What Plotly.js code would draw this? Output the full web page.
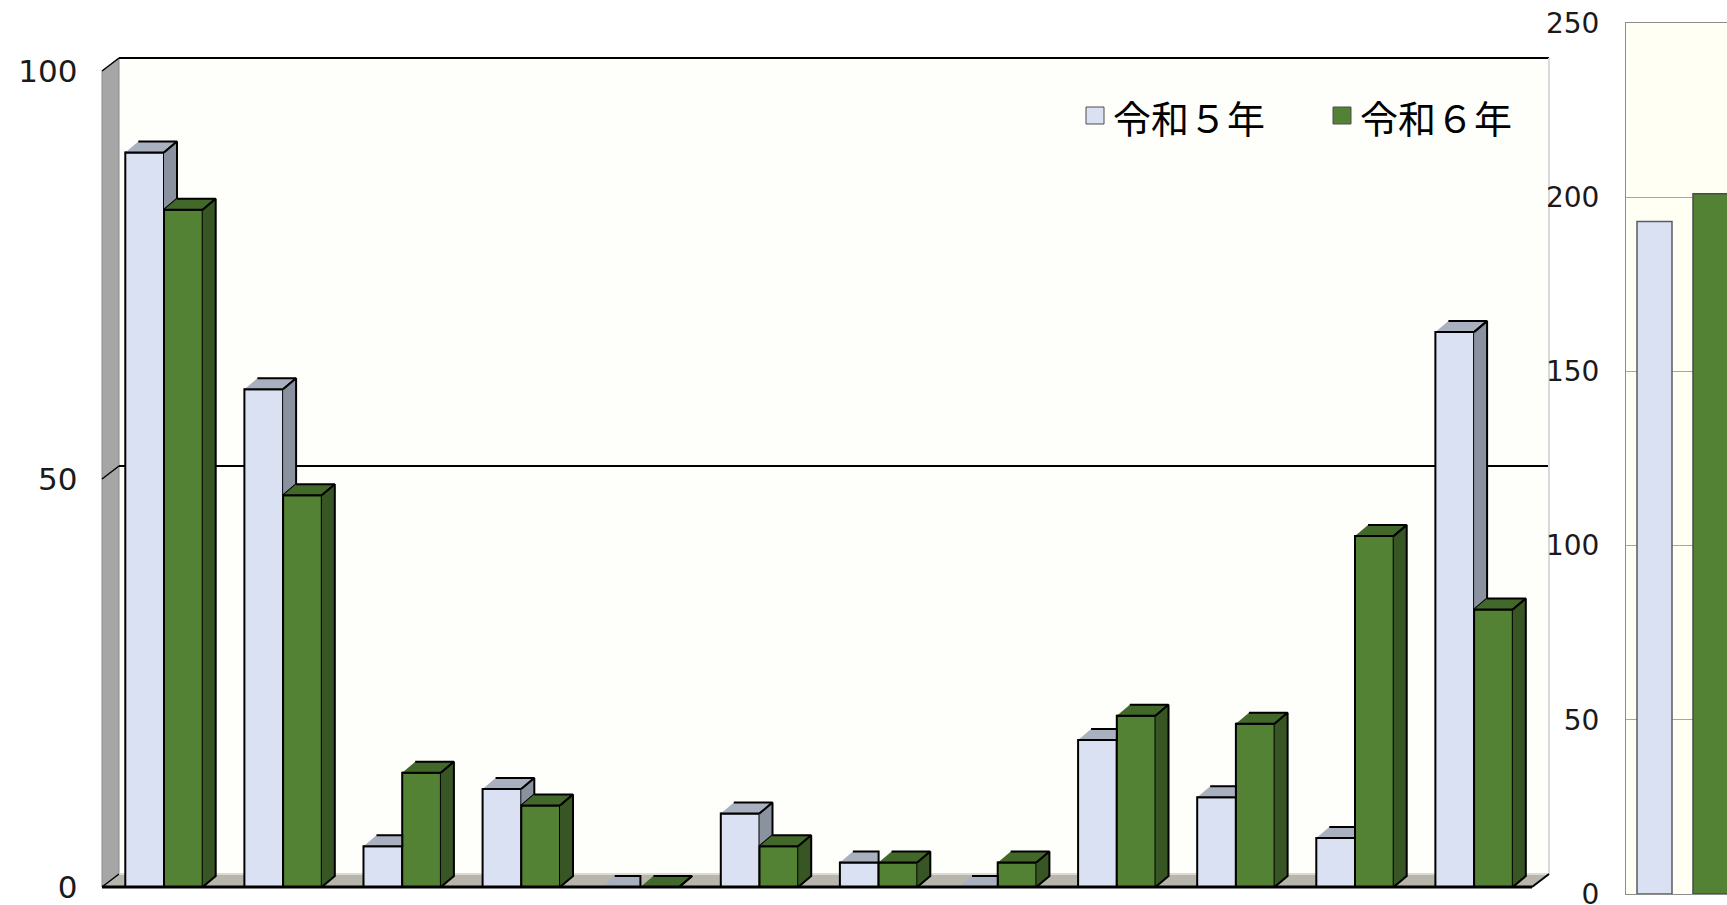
<!DOCTYPE html>
<html>
<head>
<meta charset="utf-8">
<script src="https://cdn.plot.ly/plotly-3.0.1.min.js"></script>
<style>
html,body{margin:0;padding:0;background:#ffffff;}
#chart{width:1727px;height:905px;}
</style>
</head>
<body>
<div id="chart"></div>
<script>
// ---------------- data ----------------
const categories = ['1','2','3','4','5','6','7','8','9','10','11','12'];
const seriesNames = ['令和５年', '令和６年'];
const valuesR5 = [90, 61, 5, 12, 0, 9, 3, 0, 18, 11, 6, 68];
const valuesR6 = [83, 48, 14, 10, 0, 5, 3, 3, 21, 20, 43, 34];
const totalCategory = ['合計'];
const totalR5 = [193];
const totalR6 = [201];
const leftTicks = [0, 50, 100];
const rightTicks = [0, 50, 100, 150, 200, 250];

// ---------------- layout constants (pixels) ----------------
const W = 1727, H = 905;
const L = {x0: 104.45, x1: 1533.65, y0: 887, y1: 71, yMax: 100};   // front plane of left chart
const WALL = {left: 102, right: 1532, dx: 17, dy: 13};
const BAR_DEPTH = {dx: 13, dy: 11};
const R = {x0: 1626, y0: 894, y1: 23, yMax: 250};
const px = x => x / W;
const py = y => 1 - y / H;
const yPix = v => L.y0 - (L.y0 - L.y1) * v / L.yMax;

const COLORS = {
  r5Front: '#DAE1F2', r5Top: '#A9B1C0', r5Side: '#8B929F',
  r6Front: '#548235', r6Top: '#42692A', r6Side: '#375623',
  sideWall: '#A6A6A6', floor: '#B8B5AD', backWall: '#FEFEFB',
  rightBg: '#FFFFF4', rightFrame: '#8C8C8C', rightGrid: '#A6A6A6'
};

const nCat = categories.length;
const xIdx = categories.map((c, i) => i);
const barW = 0.325;
const pxPerX = (L.x1 - L.x0) / nCat;
const pxPerY = (L.y0 - L.y1) / L.yMax;
const dx = BAR_DEPTH.dx / pxPerX;
const dy = BAR_DEPTH.dy / pxPerY;

// 3D faces (top & side) computed from the data values
function faces(vals, other, isFirst) {
  const top = {x: [], y: []}, side = {x: [], y: []};
  vals.forEach((v, i) => {
    const xl = isFirst ? xIdx[i] - barW : xIdx[i];
    const xr = xl + barW;
    const o = other[i];
    if (isFirst && o >= v) {
      top.x.push(xl, xr, xr, xl + dx, null);
      top.y.push(v, v, v + dy, v + dy, null);
    } else {
      top.x.push(xl, xr, xr + dx, xl + dx, null);
      top.y.push(v, v, v + dy, v + dy, null);
    }
    if (isFirst) {
      if (v > o) {
        side.x.push(xr, xr + dx, xr + dx, xr, null);
        side.y.push(v, v + dy, o + dy, o, null);
      }
    } else {
      side.x.push(xr, xr + dx, xr + dx, xr, null);
      side.y.push(v, v + dy, dy, 0, null);
    }
  });
  return {top, side};
}

const f5 = faces(valuesR5, valuesR6, true);
const f6 = faces(valuesR6, valuesR5, false);

function poly(p, color) {
  return {type: 'scatter', mode: 'lines', x: p.x, y: p.y, fill: 'toself',
    fillcolor: color, line: {color: '#000000', width: 2}, hoverinfo: 'skip',
    showlegend: false, xaxis: 'x', yaxis: 'y'};
}

const data = [
  {type: 'bar', name: seriesNames[0], x: xIdx, y: valuesR5, width: barW, offset: -barW,
   marker: {color: COLORS.r5Front, line: {color: '#000000', width: 2}}, showlegend: false, xaxis: 'x', yaxis: 'y'},
  poly(f5.top, COLORS.r5Top),
  poly(f5.side, COLORS.r5Side),
  {type: 'bar', name: seriesNames[1], x: xIdx, y: valuesR6, width: barW, offset: 0,
   marker: {color: COLORS.r6Front, line: {color: '#000000', width: 2}}, showlegend: false, xaxis: 'x', yaxis: 'y'},
  poly(f6.top, COLORS.r6Top),
  poly(f6.side, COLORS.r6Side),
  {type: 'bar', name: seriesNames[0], x: totalCategory, y: totalR5,
   marker: {color: COLORS.r5Front, line: {color: '#5A5A6A', width: 1.5}}, showlegend: false, xaxis: 'x2', yaxis: 'y2'},
  {type: 'bar', name: seriesNames[1], x: totalCategory, y: totalR6,
   marker: {color: COLORS.r6Front, line: {color: '#4A4A4A', width: 1.5}}, showlegend: false, xaxis: 'x2', yaxis: 'y2'}
];

// ---------------- decoration shapes ----------------
const wl = WALL.left, wr = WALL.right, wdx = WALL.dx, wdy = WALL.dy;
function pathStr(pts) {
  return 'M' + pts.map(p => px(p[0]) + ',' + py(p[1])).join(' L') + ' Z';
}
function line(x0, y0, x1, y1, color, width, layer) {
  return {type: 'line', xref: 'paper', yref: 'paper', x0: px(x0), y0: py(y0), x1: px(x1), y1: py(y1),
    line: {color: color, width: width}, layer: layer || 'below'};
}
const shapes = [];
// back wall
shapes.push({type: 'rect', xref: 'paper', yref: 'paper', x0: px(wl + wdx), x1: px(wr + wdx),
  y0: py(yPix(L.yMax) - wdy), y1: py(yPix(0) - wdy), fillcolor: COLORS.backWall, line: {width: 0}, layer: 'below'});
// side wall
shapes.push({type: 'path', xref: 'paper', yref: 'paper', layer: 'below',
  path: pathStr([[wl, yPix(0)], [wl, yPix(L.yMax)], [wl + wdx, yPix(L.yMax) - wdy], [wl + wdx, yPix(0) - wdy]]),
  fillcolor: COLORS.sideWall, line: {color: '#8A8A8A', width: 1}});
// floor
shapes.push({type: 'path', xref: 'paper', yref: 'paper', layer: 'below',
  path: pathStr([[wl, yPix(0)], [wr, yPix(0)], [wr + wdx, yPix(0) - wdy], [wl + wdx, yPix(0) - wdy]]),
  fillcolor: COLORS.floor, line: {width: 0}});
shapes.push(line(wl + wdx, yPix(0) - wdy, wr + wdx, yPix(0) - wdy, '#DCDAD4', 2));
// back wall gridlines & tick diagonals
leftTicks.forEach(t => {
  const y = yPix(t);
  if (t > 0 && t < L.yMax) shapes.push(line(wl + wdx, y - wdy, wr + wdx, y - wdy, '#000000', 2));
  shapes.push(line(wl, y, wl + wdx, y - wdy, '#000000', 1.5));
});
// top edge of back wall & right edge
shapes.push(line(wl + wdx, yPix(L.yMax) - wdy, wr + wdx, yPix(L.yMax) - wdy, '#000000', 2));
shapes.push(line(wr + wdx, yPix(L.yMax) - wdy, wr + wdx, yPix(0) - wdy, '#DADADA', 2));
// front floor edge
shapes.push(line(wl, yPix(0), wr, yPix(0), '#000000', 3, 'above'));
shapes.push(line(wr, yPix(0), wr + wdx, yPix(0) - wdy, '#000000', 2, 'above'));

// legend (custom)
const legendItems = [
  {name: seriesNames[0], color: COLORS.r5Front, bx: 1086, tx: 1111},
  {name: seriesNames[1], color: COLORS.r6Front, bx: 1333, tx: 1358}
];
const annotations = [];
legendItems.forEach(it => {
  shapes.push({type: 'rect', xref: 'paper', yref: 'paper', x0: px(it.bx), x1: px(it.bx + 18),
    y0: py(124), y1: py(107), fillcolor: it.color, line: {color: '#4D4D4D', width: 1}, layer: 'above'});
  annotations.push({xref: 'paper', yref: 'paper', x: px(it.tx), y: py(116), xanchor: 'left', yanchor: 'middle',
    text: it.name, showarrow: false, font: {family: 'Noto Sans CJK JP', size: 38, color: '#000000'}});
});

// right chart x range: group centre placed at 1682.5 px, category width 140 px
const catPx = 140;
const rCenter = 1682.5;
const x2range = [-(rCenter - R.x0) / catPx, (W - rCenter) / catPx];

const layout = {
  width: W, height: H,
  margin: {l: 0, r: 0, t: 0, b: 0, pad: 0},
  paper_bgcolor: '#FFFFFF',
  plot_bgcolor: COLORS.rightBg,
  showlegend: false,
  bargap: 0.2,
  bargroupgap: 0.375,
  barmode: 'group',
  xaxis: {domain: [px(L.x0), px(L.x1)], range: [-0.5, nCat - 0.5], visible: false, fixedrange: true},
  yaxis: {domain: [py(L.y0), py(L.y1)], range: [0, L.yMax], tickvals: leftTicks, ticktext: leftTicks.map(String),
    showgrid: false, zeroline: false, showline: false, ticks: '', ticklabelstandoff: 26, ticklabeloverflow: 'allow',
    tickfont: {family: 'DejaVu Sans', size: 31, color: '#1A1A1A'}, fixedrange: true},
  xaxis2: {domain: [px(R.x0), 1], anchor: 'y2', type: 'category', range: x2range, showticklabels: false,
    ticks: '', showgrid: false, zeroline: false, showline: true, mirror: true, linecolor: COLORS.rightFrame, linewidth: 1},
  yaxis2: {domain: [py(R.y0), py(R.y1)], anchor: 'x2', range: [0, R.yMax], tickvals: rightTicks,
    ticktext: rightTicks.map(String), showgrid: true, gridcolor: COLORS.rightGrid, gridwidth: 1, zeroline: false,
    showline: true, linecolor: COLORS.rightFrame, ticks: '', ticklabelstandoff: 20, ticklabeloverflow: 'allow',
    tickfont: {family: 'DejaVu Sans', size: 28, color: '#1A1A1A'}},
  shapes: shapes,
  annotations: annotations
};

Plotly.newPlot('chart', data, layout, {staticPlot: true, displayModeBar: false});
</script>
</body>
</html>
